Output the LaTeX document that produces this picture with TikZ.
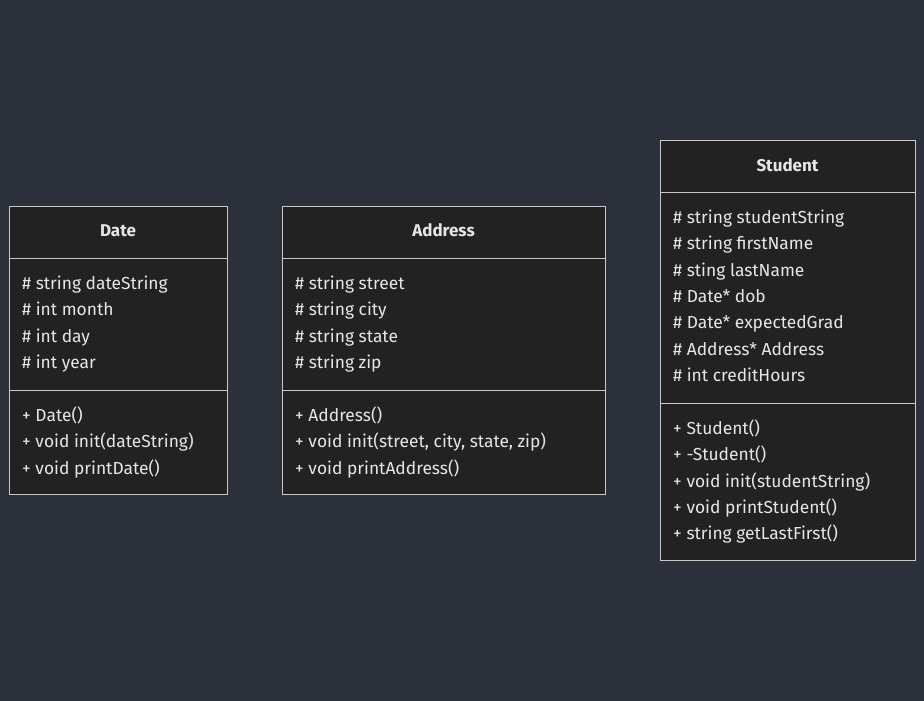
\documentclass[tikz,border=0pt]{standalone}
\usepackage{fontspec}
\setmainfont{Fira Sans}
\usepackage{tikz}
\usetikzlibrary{positioning}
\definecolor{bgcol}{HTML}{2B303B}
\definecolor{boxfill}{HTML}{222222}
\definecolor{boxline}{HTML}{C8C8C8}
\definecolor{txtcol}{HTML}{E6E6E6}

\begin{document}
\begin{tikzpicture}[x=1pt, y=-1pt,
  every node/.style={draw=none, text=txtcol, inner sep=0pt, font=\fontsize{17.4}{20}\selectfont},
  member/.style={anchor=mid west},
  title/.style={anchor=mid, font=\fontsize{17}{20}\selectfont\bfseries},
  classbox/.style={draw=boxline, fill=boxfill, line width=1pt},
  divider/.style={draw=boxline, line width=1pt}]
  % Background
  \fill[bgcol] (0,0) rectangle (924,701);
  \useasboundingbox (0,0) rectangle (924,701);

  % Boxes
  \draw[classbox] (9,206) rectangle (227,494);
  \draw[divider] (9,258) -- (227,258);
  \draw[divider] (9,390) -- (227,390);
  \draw[classbox] (282,206) rectangle (605,494);
  \draw[divider] (282,258) -- (605,258);
  \draw[divider] (282,390) -- (605,390);
  \draw[classbox] (660,140) rectangle (915,560);
  \draw[divider] (660,192) -- (915,192);
  \draw[divider] (660,403) -- (915,403);

  % Date
  \node[title] (date) at (118,234) {Date};
  \foreach \txt [count=\i] in {\# string dateString, \# int month, \# int day, \# int year}
    \node[member] (date-a\i) at (22,{287+26.3*(\i-1)}) {\txt};
  \foreach \txt [count=\i] in {+ Date(), + void init(dateString), + void printDate()}
    \node[member] (date-m\i) at (22,{419+26.3*(\i-1)}) {\txt};

  % Address
  \node[title] (address) at (443.5,234) {Address};
  \foreach \txt [count=\i] in {\# string street, \# string city, \# string state, \# string zip}
    \node[member] (address-a\i) at (295,{287+26.3*(\i-1)}) {\txt};
  \foreach \txt [count=\i] in {+ Address(), {+ void init(street, city, state, zip)}, + void printAddress()}
    \node[member] (address-m\i) at (295,{419+26.3*(\i-1)}) {\txt};

  % Student
  \node[title] (student) at (787.5,169) {Student};
  \foreach \txt [count=\i] in {\# string studentString, \# string firstName, \# sting lastName,
      \# Date* dob, \# Date* expectedGrad, \# Address* Address, \# int creditHours}
    \node[member] (student-a\i) at (673,{221+26.3*(\i-1)}) {\txt};
  \foreach \txt [count=\i] in {+ Student(), + -Student(), + void init(studentString),
      + void printStudent(), + string getLastFirst()}
    \node[member] (student-m\i) at (673,{432+26.3*(\i-1)}) {\txt};
\end{tikzpicture}
\end{document}
